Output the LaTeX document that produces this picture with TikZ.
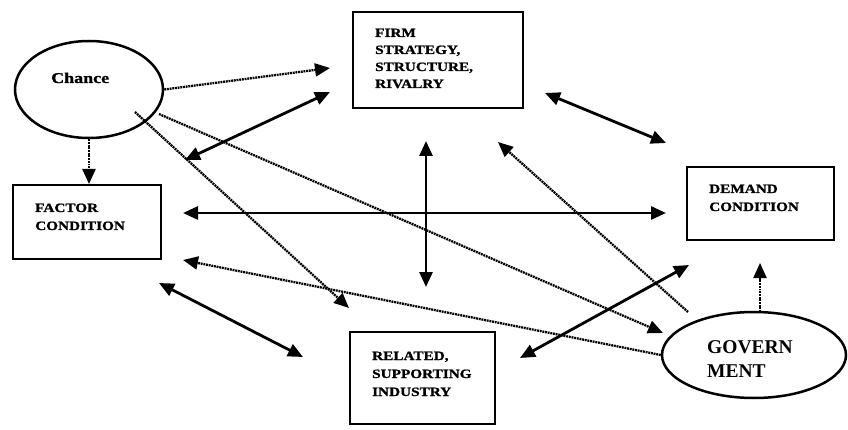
\documentclass[tikz,border=0pt]{standalone}
\usepackage{fontspec}
\setmainfont{Liberation Serif}
\newfontfamily\wideserif[FakeStretch=1.2,FakeBold=1.2]{Liberation Serif}
\usetikzlibrary{arrows.meta,shapes.geometric}
\begin{document}
\begin{tikzpicture}[x=1pt,y=-1pt,
  box/.style={draw,line width=2.8pt,rectangle,inner sep=0pt},
  oval/.style={draw,line width=2.5pt,ellipse,inner sep=0pt},
  lbl/.style={anchor=base west,inner sep=0pt,font=\wideserif\bfseries\fontsize{12.7}{14}\selectfont},
  tip/.style={-{Triangle[length=15pt,width=13pt]}},
  both/.style={{Triangle[length=15pt,width=13pt]}-{Triangle[length=15pt,width=13pt]}},
  link/.style={line width=2.8pt},
  hint/.style={line width=2.3pt,dash pattern=on 1.9pt off 0.8pt},
]
\fill[white] (0,0) rectangle (848,430);
\useasboundingbox (0,0) rectangle (848,430);

% the four boxes and the two ovals
\node[box,minimum width=170pt,minimum height=96pt] (firm) at (438,60) {};
\node[box,minimum width=148pt,minimum height=74pt] (factor) at (87,222) {};
\node[box,minimum width=147pt,minimum height=73pt] (demand) at (760.5,203.5) {};
\node[box,minimum width=145pt,minimum height=92pt] (related) at (422.5,378) {};
\node[oval,minimum width=148pt,minimum height=97pt] (chance) at (89,89.5) {};
\node[oval,minimum width=184pt,minimum height=86pt] (gov) at (754,355) {};

% labels
\node[lbl] (firmA) at (375,37) {FIRM};
\node[lbl] (firmB) at (375,54) {STRATEGY,};
\node[lbl] (firmC) at (375,71) {STRUCTURE,};
\node[lbl] (firmD) at (375,88) {RIVALRY};
\node[lbl] (factorA) at (35,212) {FACTOR};
\node[lbl] (factorB) at (35,230) {CONDITION};
\node[lbl] (demandA) at (709,193) {DEMAND};
\node[lbl] (demandB) at (709,211) {CONDITION};
\node[lbl] (relA) at (372,360) {RELATED,};
\node[lbl] (relB) at (372,378) {SUPPORTING};
\node[lbl] (relC) at (372,396) {INDUSTRY};
\node[anchor=base west,inner sep=0pt,font=\wideserif\bfseries\fontsize{15}{17}\selectfont] (chanceT) at (51,83) {Chance};
\node[anchor=base west,inner sep=0pt,font=\bfseries\fontsize{19.5}{22}\selectfont] (govA) at (707,353) {GOVERN};
\node[anchor=base west,inner sep=0pt,font=\bfseries\fontsize{19.5}{22}\selectfont] (govB) at (707,377) {MENT};

% free ends of the connectors
\coordinate (cF) at (330,68);
\coordinate (cGs) at (159,114);
\coordinate (cG) at (663,333);
\coordinate (cRs) at (135,112);
\coordinate (cR) at (349,308);
\coordinate (cFa) at (89,184);
\coordinate (fmL) at (185,160);
\coordinate (fmR) at (330,92);
\coordinate (hL) at (183,213);
\coordinate (hR) at (666,213);
\coordinate (vT) at (426,141);
\coordinate (vB) at (426,287);
\coordinate (fdL) at (545,93);
\coordinate (fdR) at (666,143);
\coordinate (gFs) at (688,312);
\coordinate (gF) at (498,142);
\coordinate (gFa) at (183,260);
\coordinate (frL) at (159,283);
\coordinate (frR) at (303,357);
\coordinate (rdL) at (520,358);
\coordinate (rdR) at (689,265);
\coordinate (gDs) at (760,312);
\coordinate (gD) at (760,263);

% influence of chance and government (dotted)
\draw[hint,tip] (chance.east) -- (cF);
\draw[hint,tip] (cGs) -- (cG);
\draw[hint,tip] (cRs) -- (cR);
\draw[hint,tip] (chance.south) -- (cFa);
\draw[hint,tip] (gFs) -- (gF);
\draw[hint,tip] (gov.west) -- (gFa);
\draw[hint,tip] (gDs) -- (gD);

% mutual links of the diamond (solid)
\draw[link,both] (fmL) -- (fmR);
\draw[link,both] (hL) -- (hR);
\draw[link,both] (vT) -- (vB);
\draw[link,both] (fdL) -- (fdR);
\draw[link,both] (frL) -- (frR);
\draw[link,both] (rdL) -- (rdR);
\end{tikzpicture}
\end{document}
